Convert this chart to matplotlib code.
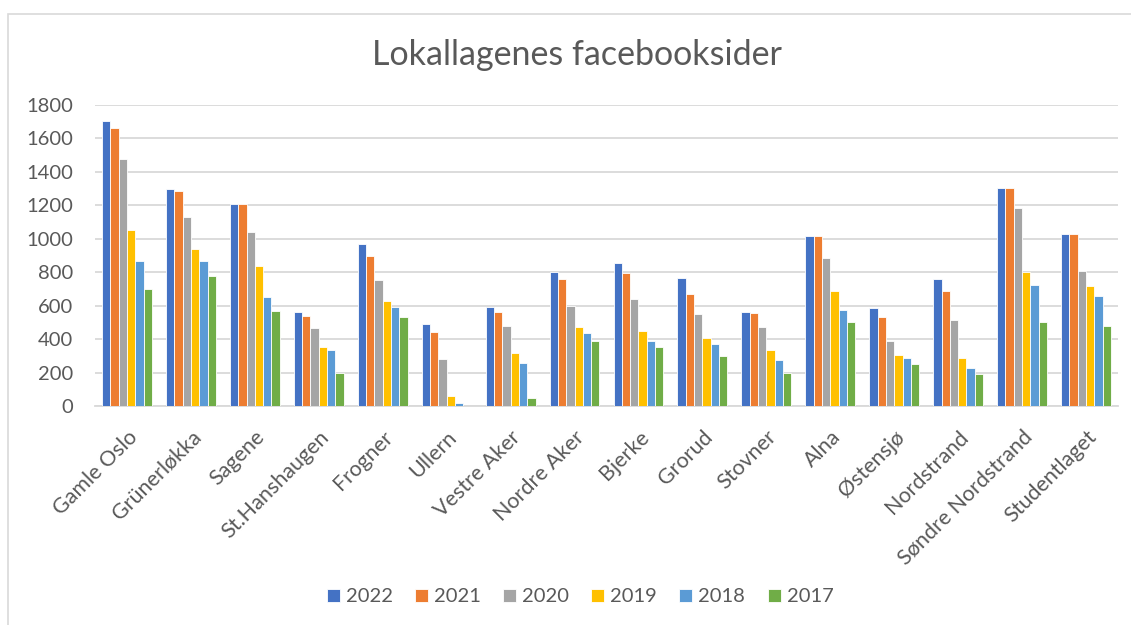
import matplotlib
matplotlib.use("Agg")
import matplotlib.pyplot as plt
from matplotlib.patches import Rectangle
import numpy as np

plt.rcParams['font.family'] = ['Lato', 'DejaVu Sans']

categories = ["Gamle Oslo", "Grünerløkka", "Sagene", "St.Hanshaugen", "Frogner",
              "Ullern", "Vestre Aker", "Nordre Aker", "Bjerke", "Grorud", "Stovner",
              "Alna", "Østensjø", "Nordstrand", "Søndre Nordstrand", "Studentlaget"]
years = ["2022", "2021", "2020", "2019", "2018", "2017"]

v2022 = [1705, 1300, 1210, 560, 970, 490, 595, 800, 855, 765, 560, 1015, 585, 760, 1305, 1030]
v2021 = [1660, 1285, 1210, 540, 900, 440, 560, 760, 795, 670, 555, 1015, 530, 685, 1305, 1030]
v2020 = [1480, 1130, 1040, 465, 755, 280, 480, 600, 640, 550, 475, 885, 390, 515, 1185, 810]
v2019 = [1055, 940, 840, 355, 630, 60, 315, 475, 450, 405, 335, 690, 305, 285, 800, 715]
v2018 = [870, 870, 650, 335, 595, 15, 260, 435, 390, 370, 275, 575, 285, 230, 725, 660]
v2017 = [700, 780, 570, 200, 530, 0, 50, 390, 350, 300, 195, 500, 250, 190, 505, 480]
series = [v2022, v2021, v2020, v2019, v2018, v2017]
colors = ["#4472C4", "#ED7D31", "#A5A5A5", "#FFC000", "#5B9BD5", "#70AD47"]

W, H = 1131, 625
fig = plt.figure(figsize=(W / 100, H / 100), dpi=100)
ax = fig.add_axes([95 / W, (H - 406) / H, (1118 - 95) / W, (406 - 105) / H])

# outer chart border (partially visible)
fig.patches.append(Rectangle((8 / W, -0.1), 1.2, (H - 14) / H + 0.1, transform=fig.transFigure,
                             fill=False, edgecolor="#D9D9D9", linewidth=1.2))

x = np.arange(len(categories))
bw = 0.13
for i, (vals, c, yr) in enumerate(zip(series, colors, years)):
    ax.bar(x + (i - 2.5) * bw, vals, width=bw, color=c, edgecolor="white",
           linewidth=0.6, label=yr, zorder=3)

ax.set_xlim(-0.5, len(categories) - 0.5)
ax.set_ylim(0, 1800)
ax.set_yticks(range(0, 1801, 200))
ax.yaxis.grid(True, color="#D9D9D9", linewidth=1.3, zorder=0)
ax.set_axisbelow(True)
for s in ["top", "right", "left"]:
    ax.spines[s].set_visible(False)
ax.spines["bottom"].set_color("#D9D9D9")
ax.spines["bottom"].set_linewidth(1.3)
ax.tick_params(axis="both", length=0, labelsize=14.5, colors="#595959")
ax.tick_params(axis="y", pad=16)
ax.set_xticks(x)
ax.set_xticklabels(categories, rotation=45, ha="right", va="top", rotation_mode="anchor")
ax.tick_params(axis="x", pad=15, labelsize=15.5)

fig.text(577 / W, 1 - 55 / H, "Lokallagenes facebooksider", ha="center", va="center",
         fontsize=24.5, color="#595959")

leg = fig.legend(loc="center", bbox_to_anchor=(580 / W, 1 - 597 / H), ncol=6, frameon=False,
                 fontsize=14.5, handlelength=0.65, handleheight=0.65, handletextpad=0.3,
                 columnspacing=1.1)
for t in leg.get_texts():
    t.set_color("#595959")

fig.savefig("out.png", dpi=100, facecolor="white")
